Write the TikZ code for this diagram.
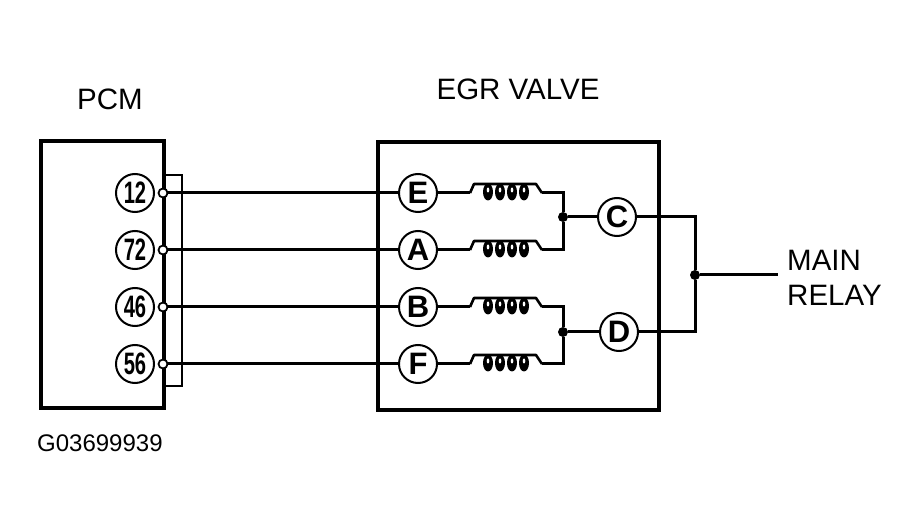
\documentclass[tikz,border=0pt]{standalone}
\usepackage{graphicx}
\usepackage{fontspec}
\setmainfont{Liberation Sans}
\begin{document}
\begin{tikzpicture}[x=1pt,y=-1pt,
  box/.style={draw,line width=3.6pt,inner sep=0pt},
  wire/.style={line width=3pt},
  thinwire/.style={line width=2.2pt},
  pin/.style={circle,draw,line width=2pt,minimum size=38pt,inner sep=0pt,font=\fontsize{31}{31}\bfseries\selectfont},
  term/.style={circle,draw,line width=1.8pt,fill=white,minimum size=9pt,inner sep=0pt},
  jdot/.style={circle,fill=black,minimum size=10pt,inner sep=0pt},
  lbl/.style={font=\fontsize{29.5}{35}\selectfont,inner sep=0pt},
  coil/.pic={
    \draw[line width=2.6pt,line join=round] (0,0) -- (4,-9) -- (66,-9) -- (72,0);
    \foreach \u in {18,30,42,54}{
      \fill (\u,-1) ellipse (5 and 8.5);
      \fill[white] (\u,-3) ellipse (1.3 and 2.5);
    }
  }
]
\useasboundingbox (0,0) rectangle (924,529);
\fill[white] (0,0) rectangle (924,529);

% titles
\node[lbl] (tpcm) at (110,99) {PCM};
\node[lbl] (tegr) at (518,89) {EGR VALVE};
\node[lbl,anchor=west,align=left] (trelay) at (787,278) {MAIN\\RELAY};
\node[font=\fontsize{24}{24}\selectfont,inner sep=0pt,anchor=west] (tcode) at (37,443) {G03699939};

% PCM box
\node[box,anchor=north west,minimum width=123pt,minimum height=267pt] (pcm) at (39,139) {};
% EGR box
\node[box,anchor=north west,minimum width=281pt,minimum height=268pt] (egr) at (376,140) {};

% PCM pins
\node[pin] (p12) at (135,193) {\scalebox{0.65}[1]{12}};
\node[pin] (p72) at (135,250) {\scalebox{0.65}[1]{72}};
\node[pin] (p46) at (135,307) {\scalebox{0.65}[1]{46}};
\node[pin] (p56) at (135,364) {\scalebox{0.65}[1]{56}};

% bracket
\coordinate (bt) at (163,175);
\coordinate (bb) at (163,386);
\draw[thinwire] (bt) -- ++(19,0) -- ++(0,211) -- (bb);

% terminals
\node[term] (t12) at (163,193) {};
\node[term] (t72) at (163,250) {};
\node[term] (t46) at (163,307) {};
\node[term] (t56) at (163,364) {};

% EGR pins
\node[pin] (pE) at (418,193) {E};
\node[pin] (pA) at (418,250) {A};
\node[pin] (pB) at (418,307) {B};
\node[pin] (pF) at (418,364) {F};
\node[pin] (pC) at (617,217) {C};
\node[pin] (pD) at (619,332) {D};

% wires PCM -> EGR
\draw[wire] (t12.east) -- (pE.west);
\draw[wire] (t72.east) -- (pA.west);
\draw[wire] (t46.east) -- (pB.west);
\draw[wire] (t56.east) -- (pF.west);

% coils
\foreach \n/\yy in {E/193,A/250,B/307,F/364}{
  \coordinate (k\n1) at (470,\yy);
  \coordinate (k\n2) at (542,\yy);
  \pic at (k\n1) {coil};
  \draw[wire] (p\n.east) -- (k\n1);
}

% junctions
\node[jdot] (j1) at (563,217) {};
\node[jdot] (j2) at (563,332) {};
\draw[wire] (kE2) -| (j1);
\draw[wire] (kA2) -| (j1);
\draw[wire] (kB2) -| (j2);
\draw[wire] (kF2) -| (j2);
\draw[wire] (j1) -- (pC.west);
\draw[wire] (j2) -- (pD.west);

% right side
\node[jdot] (jr) at (695,275) {};
\coordinate (rend) at (778,275);
\draw[wire] (pC.east) -| (jr);
\draw[wire] (pD.east) -| (jr);
\draw[wire] (jr) -- (rend);
\end{tikzpicture}
\end{document}
